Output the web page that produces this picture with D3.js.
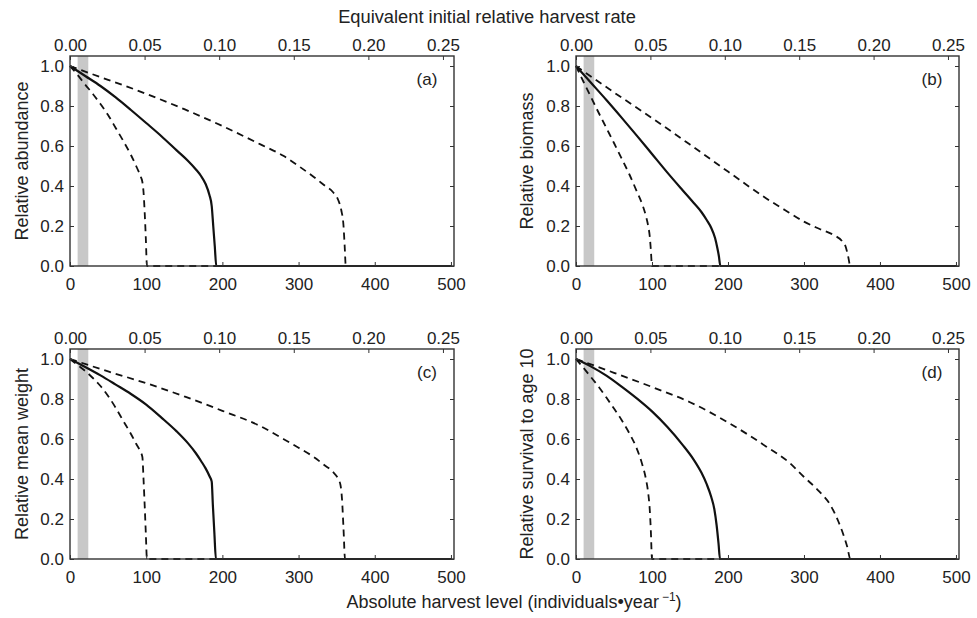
<!DOCTYPE html>
<html><head><meta charset="utf-8">
<script src="https://cdn.jsdelivr.net/npm/d3@7"></script>
<style>
body{margin:0;background:#fff}
text{font-family:"Liberation Sans",Arial,Helvetica,sans-serif;fill:#222}
</style>
</head><body>
<svg id="chart" width="977" height="618"></svg>
<script>
// ---------- data ----------
const harvestTicks = [0, 100, 200, 300, 400, 500];
const rateTicks = [0, 0.05, 0.10, 0.15, 0.20, 0.25];
const yTicks = [0, 0.2, 0.4, 0.6, 0.8, 1.0];
const panelLabels = ["(a)", "(b)", "(c)", "(d)"];
const yTitles = ["Relative abundance", "Relative biomass", "Relative mean weight", "Relative survival to age 10"];
const topTitle = "Equivalent initial relative harvest rate";
const bottomTitle = "Absolute harvest level (individuals•year";
const harvestMax = 504;
const harvestPerRate = 1958;          // harvest level equivalent to relative rate 1
const referenceBand = [10, 24];       // shaded band (individuals/year)

// (a) relative abundance
const abundMidH  = [0, 20, 40, 60, 80, 100, 120, 140, 155, 165, 172, 178, 183, 186, 188, 190, 192, 500];
const abundMid   = [1.0, 0.95, 0.90, 0.843, 0.78, 0.715, 0.649, 0.578, 0.525, 0.484, 0.45, 0.41, 0.355, 0.30, 0.20, 0.10, 0, 0];
const abundLowH  = [0, 10, 20, 30, 40, 50, 60, 70, 80, 88, 93, 95, 96.5, 98, 99.5, 101, 500];
const abundLow   = [1.0, 0.955, 0.907, 0.86, 0.81, 0.755, 0.69, 0.625, 0.555, 0.49, 0.445, 0.42, 0.37, 0.27, 0.14, 0, 0];
const abundHighH = [0, 25, 50, 75, 100, 150, 200, 250, 280, 300, 320, 335, 345, 352, 356, 359, 360.5, 362, 500];
const abundHigh  = [1.0, 0.965, 0.931, 0.897, 0.861, 0.784, 0.70, 0.608, 0.551, 0.50, 0.445, 0.40, 0.37, 0.33, 0.28, 0.20, 0.10, 0, 0];

// (b) relative biomass
const biomMidH  = [0, 20, 40, 60, 80, 100, 120, 140, 155, 165, 172, 178, 183, 186, 188, 190, 500];
const biomMid   = [1.0, 0.915, 0.83, 0.742, 0.652, 0.56, 0.468, 0.38, 0.315, 0.27, 0.23, 0.19, 0.14, 0.09, 0.05, 0, 0];
const biomLowH  = [0, 10, 20, 30, 40, 50, 60, 70, 80, 88, 92, 95, 97, 98.5, 100, 500];
const biomLow   = [1.0, 0.92, 0.842, 0.765, 0.69, 0.615, 0.538, 0.46, 0.373, 0.30, 0.25, 0.20, 0.15, 0.08, 0, 0];
const biomHighH = [0, 50, 100, 150, 200, 250, 280, 300, 320, 340, 350, 355, 358, 361, 500];
const biomHigh  = [1.0, 0.868, 0.74, 0.607, 0.472, 0.339, 0.268, 0.222, 0.186, 0.153, 0.125, 0.095, 0.05, 0, 0];

// (c) relative mean weight
const weightMidH  = [0, 20, 40, 60, 80, 100, 120, 140, 155, 165, 172, 178, 183, 186, 187.5, 189.5, 191.5, 500];
const weightMid   = [1.0, 0.96, 0.918, 0.872, 0.825, 0.772, 0.707, 0.638, 0.578, 0.53, 0.49, 0.453, 0.415, 0.387, 0.27, 0.13, 0, 0];
const weightLowH  = [0, 10, 20, 30, 40, 50, 60, 70, 80, 87, 92, 95, 96.5, 98, 99.5, 101, 500];
const weightLow   = [1.0, 0.97, 0.94, 0.905, 0.865, 0.815, 0.756, 0.69, 0.625, 0.575, 0.54, 0.51, 0.40, 0.27, 0.13, 0, 0];
const weightHighH = [0, 50, 100, 150, 200, 250, 280, 300, 320, 335, 345, 352, 355, 357, 359, 361, 500];
const weightHigh  = [1.0, 0.938, 0.879, 0.813, 0.741, 0.664, 0.60, 0.556, 0.51, 0.466, 0.436, 0.40, 0.37, 0.30, 0.15, 0, 0];

// (d) relative survival to age 10
const survMidH  = [0, 20, 40, 60, 80, 100, 120, 140, 155, 165, 172, 178, 182, 185, 187.5, 189.5, 500];
const survMid   = [1.0, 0.962, 0.917, 0.862, 0.803, 0.738, 0.661, 0.572, 0.496, 0.432, 0.374, 0.31, 0.25, 0.17, 0.08, 0, 0];
const survLowH  = [0, 10, 20, 30, 40, 50, 60, 70, 80, 87, 92, 95, 97, 98.5, 100, 500];
const survLow   = [1.0, 0.955, 0.908, 0.86, 0.807, 0.752, 0.695, 0.63, 0.552, 0.475, 0.40, 0.33, 0.25, 0.14, 0, 0];
const survHighH = [0, 50, 100, 150, 200, 250, 280, 300, 320, 335, 345, 352, 357, 361, 500];
const survHigh  = [1.0, 0.931, 0.86, 0.784, 0.683, 0.563, 0.484, 0.41, 0.338, 0.268, 0.19, 0.12, 0.06, 0, 0];

// ---------- layout ----------
const panels = [
  {l: 70,  r: 454, t: 56,  b: 266, title: yTitles[0], label: panelLabels[0], tx: 28,
   series: [[abundLowH, abundLow, "dash"], [abundHighH, abundHigh, "dash"], [abundMidH, abundMid, "solid"]]},
  {l: 576, r: 959, t: 56,  b: 266, title: yTitles[1], label: panelLabels[1], tx: 533,
   series: [[biomLowH, biomLow, "dash"], [biomHighH, biomHigh, "dash"], [biomMidH, biomMid, "solid"]]},
  {l: 70,  r: 454, t: 349, b: 559, title: yTitles[2], label: panelLabels[2], tx: 28,
   series: [[weightLowH, weightLow, "dash"], [weightHighH, weightHigh, "dash"], [weightMidH, weightMid, "solid"]]},
  {l: 576, r: 959, t: 349, b: 559, title: yTitles[3], label: panelLabels[3], tx: 533,
   series: [[survLowH, survLow, "dash"], [survHighH, survHigh, "dash"], [survMidH, survMid, "solid"]]}
];

const svg = d3.select("#chart");
const ink = "#222";

panels.forEach(p => {
  const x = d3.scaleLinear().domain([0, harvestMax]).range([p.l, p.r]);
  const xTop = d3.scaleLinear().domain([0, harvestMax / harvestPerRate]).range([p.l, p.r]);
  const y = d3.scaleLinear().domain([0, 1.05]).range([p.b, p.t]);
  const g = svg.append("g");

  // shaded band
  g.append("rect")
    .attr("x", x(referenceBand[0])).attr("y", p.t)
    .attr("width", x(referenceBand[1]) - x(referenceBand[0]))
    .attr("height", p.b - p.t)
    .attr("fill", "#c8c8c8");

  // curves
  const line = d3.line().x(d => x(d[0])).y(d => y(d[1])).curve(d3.curveMonotoneX);
  p.series.forEach(([hs, vs, style]) => {
    const pts = hs.map((h, i) => [h, vs[i]]);
    g.append("path").datum(pts)
      .attr("d", line)
      .attr("fill", "none")
      .attr("stroke", "#111")
      .attr("stroke-width", style === "solid" ? 2.2 : 1.8)
      .attr("stroke-dasharray", style === "solid" ? null : "7,5")
      .attr("stroke-linejoin", "round");
  });

  // axes
  const styleAxis = sel => {
    sel.select(".domain").remove();
    sel.selectAll("line").attr("stroke", "#333").attr("stroke-width", 1);
    sel.selectAll("text").attr("fill", ink).style("font-size", "17px")
      .style("font-family", "'Liberation Sans', Arial, Helvetica, sans-serif");
  };
  g.append("g").attr("transform", `translate(0,${p.b})`)
    .call(d3.axisBottom(x).tickValues(harvestTicks).tickSize(-4).tickPadding(12).tickFormat(d3.format("d")))
    .call(styleAxis);
  g.append("g").attr("transform", `translate(0,${p.t})`)
    .call(d3.axisTop(xTop).tickValues(rateTicks).tickSize(-4).tickPadding(5).tickFormat(d3.format(".2f")))
    .call(styleAxis);
  g.append("g").attr("transform", `translate(${p.l},0)`)
    .call(d3.axisLeft(y).tickValues(yTicks).tickSize(-4).tickPadding(6).tickFormat(d3.format(".1f")))
    .call(styleAxis);
  g.append("g").attr("transform", `translate(${p.r},0)`)
    .call(d3.axisRight(y).tickValues(yTicks).tickSize(-4).tickFormat(""))
    .call(styleAxis);

  // frame
  g.append("rect")
    .attr("x", p.l).attr("y", p.t).attr("width", p.r - p.l).attr("height", p.b - p.t)
    .attr("fill", "none").attr("stroke", "#333").attr("stroke-width", 1.4);

  // panel label
  g.append("text").attr("x", p.r - 27).attr("y", p.t + 29)
    .attr("text-anchor", "middle").style("font-size", "17px").text(p.label);

  // y title
  g.append("text")
    .attr("transform", `translate(${p.tx},${(p.t + p.b) / 2}) rotate(-90)`)
    .attr("text-anchor", "middle").style("font-size", "18px").text(p.title);
});

// overall titles
svg.append("text").attr("x", 487).attr("y", 22.5).attr("text-anchor", "middle")
  .style("font-size", "18.3px").text(topTitle);

const bt = svg.append("text").attr("x", 514).attr("y", 608).attr("text-anchor", "middle")
  .style("font-size", "18px");
bt.append("tspan").text(bottomTitle);
bt.append("tspan").attr("dx", 3).attr("dy", -7).style("font-size", "12px").text("−1");
bt.append("tspan").attr("dy", 7).text(")");
</script>
</body></html>
